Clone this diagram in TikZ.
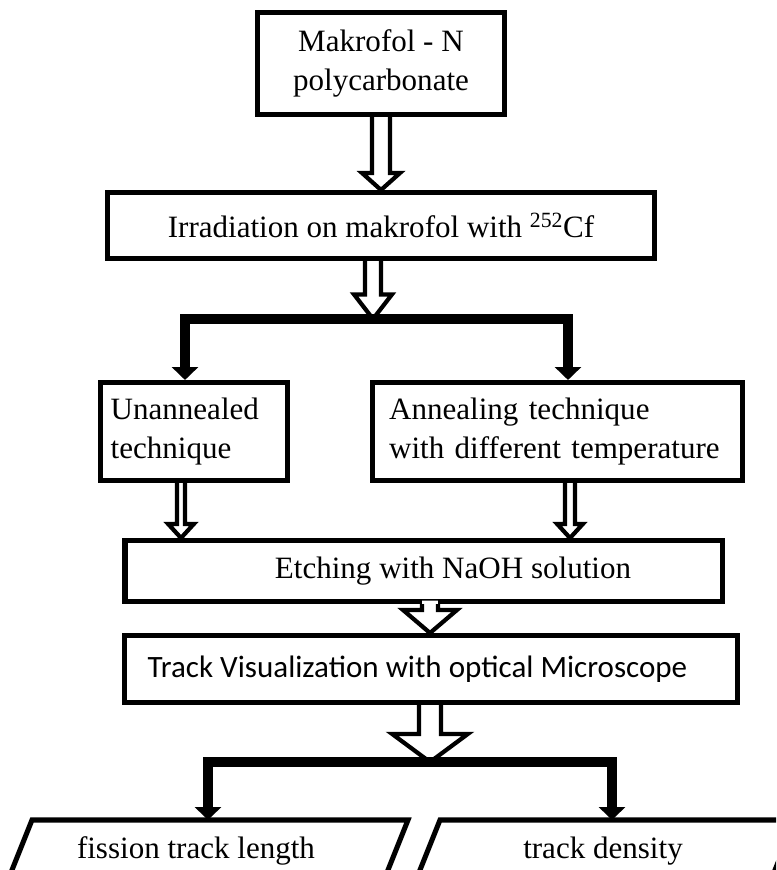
\documentclass[tikz,border=0pt]{standalone}
\usepackage{fontspec}
\setmainfont{Liberation Serif}
\newfontfamily\calibrifont{Carlito}
\usetikzlibrary{positioning, calc, arrows.meta}
\tikzset{
    box/.style={draw, line width=4.3pt, inner sep=0pt, font=\fontsize{26.5}{33}\selectfont}, % every step of the chart
    branch/.style={line width=9pt, -{Triangle[width=22pt, length=11pt]}}, % heavy split lines
    hollow/.style={line width=3.6pt, line join=miter}, % outline of the white arrows
}
% white block arrow from #2 (x is kept) down to #3 (y is kept)
% #1 overlap into the upper box, #4 stem, #5 head, #6 head length (all pt)
\newcommand{\blockarrow}[6][-2.2]{%
  \fill[white] let \p1=#2, \p2=#3 in ({\x1-#4pt},{\y1+(#1)*1pt}) -- ({\x1-#4pt},{\y2+#6pt}) -- ({\x1-#5pt},{\y2+#6pt}) -- (\x1,\y2) -- ({\x1+#5pt},{\y2+#6pt}) -- ({\x1+#4pt},{\y2+#6pt}) -- ({\x1+#4pt},{\y1+(#1)*1pt}) -- cycle;
  \draw[hollow] let \p1=#2, \p2=#3 in ({\x1-#4pt},\y1) -- ({\x1-#4pt},{\y2+#6pt}) -- ({\x1-#5pt},{\y2+#6pt}) -- (\x1,\y2) -- ({\x1+#5pt},{\y2+#6pt}) -- ({\x1+#4pt},{\y2+#6pt}) -- ({\x1+#4pt},\y1);
}

\begin{document}
\begin{tikzpicture}[x=0.03cm, y=-0.03cm]
    \useasboundingbox (0,0) rectangle (776,870);
    \clip (0,0) rectangle (776,870);

    \node[box, minimum width=7.41cm, minimum height=3.06cm, align=center] (mak) at (381,63.5) {Makrofol - N\\polycarbonate};
    \node[box, minimum width=16.41cm, minimum height=1.98cm] (irr) at (381,225.5) {Irradiation on makrofol with \textsuperscript{252}Cf};
    \node[box, minimum width=5.61cm, minimum height=2.94cm, text width=5.0cm, align=left] (unann) at (194,431.5) {Unannealed\\technique};
    \node[box, minimum width=11.1cm, minimum height=2.94cm, text width=10.1cm, align=left] (ann) at (557.5,431.5) {Annealing technique\\with different temperature};
    \node[box, minimum width=17.91cm, minimum height=1.83cm] (etch) at (423.5,571) {\hspace*{1.77cm}Etching with NaOH solution};
    \node[box, minimum width=18.39cm, minimum height=2.01cm, font=\calibrifont\fontsize{26.5}{33}\selectfont] (track) at (431,669) {Track Visualization with optical Microscope\hspace*{0.81cm}};

    % results
    \draw[box] (32,820) -- (408,820) -- (384,880) -- (8,880) -- cycle;
    \node[box, draw=none] (flen) at (196,851) {fission track length};
    \draw[box] (440,820) -- (795,820) -- (771,880) -- (416,880) -- cycle;
    \node[box, draw=none] (tden) at (603,851) {track density};

    \coordinate (split) at (373,319);
    \coordinate (split2) at (430,762);
    \coordinate (flin) at (208,820);
    \coordinate (tdin) at (612,820);

    \blockarrow{(mak.south)}{(irr.north)}{7.7}{16.2}{14.5}
    \blockarrow{([xshift=-0.24cm]irr.south)}{(split)}{6.8}{16.2}{21}
    \draw[branch] (split) -| ([xshift=-0.27cm]unann.north);
    \draw[branch] (split) -| ([xshift=0.315cm]ann.north);

    \blockarrow{([xshift=-0.39cm]unann.south)}{(etch.north)}{3.4}{11}{12}
    \blockarrow{([xshift=0.375cm]ann.south)}{(etch.north)}{4.3}{11}{12}
    \blockarrow[3]{([xshift=0.195cm]etch.south)}{(track.north)}{6.8}{23}{19.6}

    \blockarrow{([xshift=-0.03cm]track.south)}{(split2)}{9.4}{32.4}{24}
    \draw[branch] (split2) -| (flin);
    \draw[branch] (split2) -| (tdin);
\end{tikzpicture}
\end{document}
